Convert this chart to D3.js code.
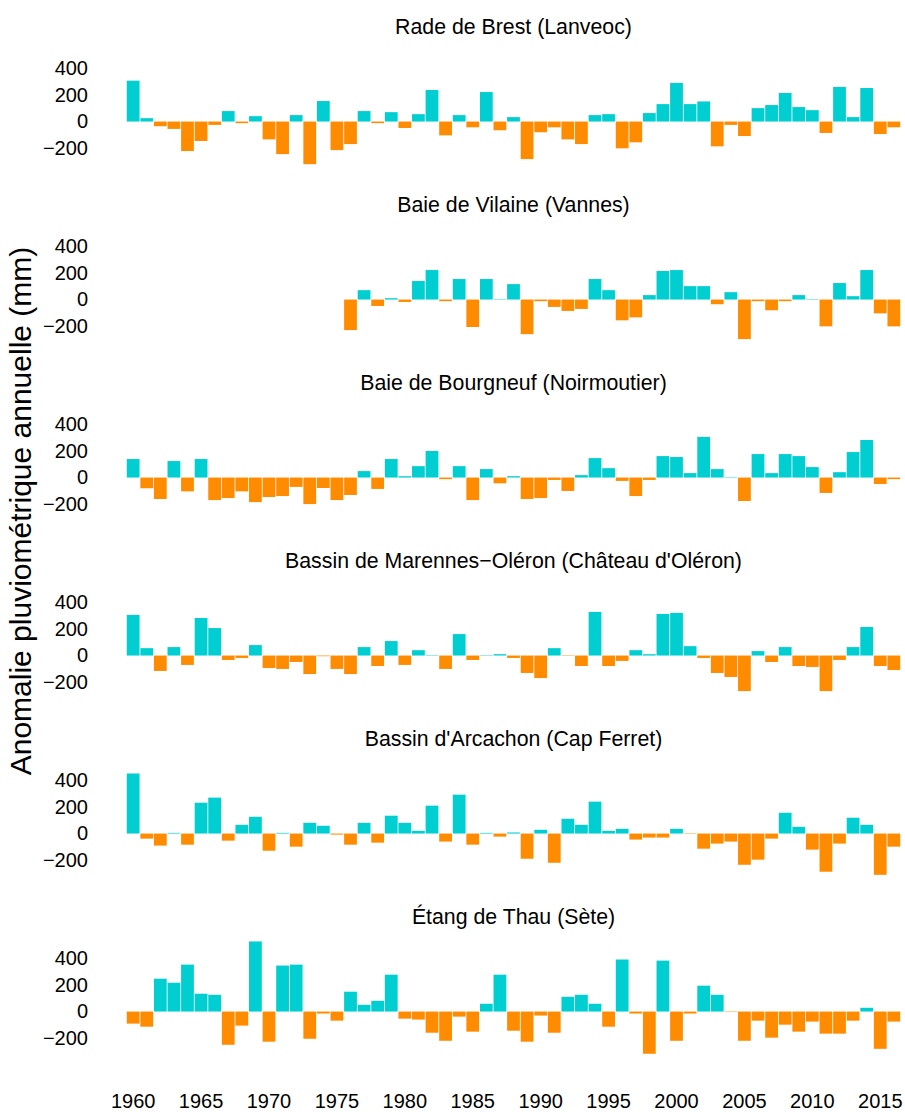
<!DOCTYPE html>
<html>
<head>
<meta charset="utf-8">
<script src="https://cdn.jsdelivr.net/npm/d3@7"></script>
<style>
  body { margin: 0; background: #fff; }
  svg text { font-family: "Liberation Sans", Arial, Helvetica, sans-serif; fill: #000; }
</style>
</head>
<body>
<div id="chart"></div>
<script>
const years = d3.range(1960, 2017)
const year_ticks = [1960, 1965, 1970, 1975, 1980, 1985, 1990, 1995, 2000, 2005, 2010, 2015]
const y_ticks = [-200, 0, 200, 400]

const titles = [
  "Rade de Brest (Lanveoc)",
  "Baie de Vilaine (Vannes)",
  "Baie de Bourgneuf (Noirmoutier)",
  "Bassin de Marennes\u2212Oléron (Château d'Oléron)",
  "Bassin d'Arcachon (Cap Ferret)",
  "Étang de Thau (Sète)"
]

// anomalies en mm, 1960 -> 2016
const brest = [305, 25, -35, -55, -220, -145, -25, 78, -12, 40,
  -133, -243, 48, -318, 153, -213, -168, 78, -12, 70,
  -48, 55, 235, -103, 48, -43, 220, -65, 33, -280,
  -80, -43, -133, -168, 48, 55, -200, -155, 63, 130,
  288, 130, 150, -185, -25, -108, 100, 123, 213, 108,
  85, -85, 258, 33, 250, -93, -43]

const vilaine = [null, null, null, null, null, null, null, null, null, null,
  null, null, null, null, null, null, -228, 70, -48, 10,
  -18, 138, 220, -12, 153, -205, 153, 3, 115, -258,
  -12, -55, -85, -70, 153, 70, -155, -133, 33, 213,
  220, 100, 100, -35, 55, -295, -12, -80, -12, 33,
  3, -200, 123, 25, 220, -103, -200]

const bourgneuf = [138, -80, -160, 123, -103, 138, -168, -153, -103, -183,
  -145, -138, -70, -198, -78, -168, -130, 48, -85, 138,
  10, 85, 198, -12, 85, -168, 63, -43, 10, -160,
  -153, -18, -100, 18, 145, 70, -25, -138, -18, 160,
  153, 33, 303, 63, 3, -175, 175, 33, 175, 160,
  78, -115, 40, 190, 280, -48, -12]

const marennes = [303, 55, -115, 63, -70, 280, 205, -33, -18, 78,
  -93, -100, -48, -138, -5, -100, -138, 63, -78, 108,
  -70, 40, 3, -100, 160, -33, 3, 10, -18, -130,
  -168, 55, -3, -78, 325, -78, -40, 40, 10, 310,
  318, 70, -18, -130, -160, -265, 33, -48, 63, -78,
  -85, -265, -33, 63, 213, -78, -108]

const arcachon = [448, -38, -90, 5, -83, 230, 268, -53, 65, 125,
  -128, 5, -98, 80, 58, -8, -83, 80, -68, 133,
  80, 20, 208, -60, 290, -83, 5, -23, 8, -188,
  28, -218, 110, 65, 238, 20, 35, -45, -30, -30,
  35, -3, -113, -75, -60, -233, -195, -38, 155, 50,
  -120, -285, -75, 118, 65, -308, -98]

const thau = [-90, -113, 245, 215, 350, 133, 125, -248, -105, 523,
  -225, 343, 350, -203, -15, -68, 148, 50, 80, 275,
  -53, -60, -158, -218, -38, -150, 58, 275, -143, -225,
  -30, -158, 110, 125, 58, -113, 388, -15, -315, 380,
  -218, -15, 193, 125, -3, -218, -68, -195, -98, -150,
  -75, -165, -165, -68, 28, -278, -75]

const series = [brest, vilaine, bourgneuf, marennes, arcachon, thau]

const width = 905
const height = 1112
const panel_step = 178
const panel_h = 119.3
const first_top = 50.5
const pos_color = "#00CED1"
const neg_color = "#FF8C00"

const svg = d3.select("#chart").append("svg")
  .attr("width", width)
  .attr("height", height)
  .attr("viewBox", `0,0,${width},${height}`)

const x = d3.scaleBand()
  .domain(years)
  .range([126.5, 900.5])
  .paddingInner(0.06)
  .paddingOuter(0.02)

series.forEach((vals, i) => {
  const top = first_top + panel_step * i
  const y = d3.scaleLinear()
    .domain([-360, 530])
    .range([top + panel_h, top])

  const data = years.map((yr, k) => ({ year: yr, value: vals[k] }))
    .filter(d => d.value != null)

  const g = svg.append("g")

  g.append("text")
    .attr("x", (x.range()[0] + x.range()[1]) / 2)
    .attr("y", top - 16.5)
    .attr("text-anchor", "middle")
    .style("font-size", "21.3px")
    .text(titles[i])

  g.append("g")
    .selectAll("rect").data(data).enter().append("rect")
      .attr("x", d => x(d.year))
      .attr("y", d => y(Math.max(0, d.value)))
      .attr("width", x.bandwidth())
      .attr("height", d => Math.abs(y(d.value) - y(0)))
      .attr("fill", d => d.value >= 0 ? pos_color : neg_color)

  const yAxis = g.append("g")
    .attr("transform", "translate(94,0)")
    .call(d3.axisLeft(y).tickValues(y_ticks).tickSize(0).tickPadding(6))
  yAxis.select(".domain").remove()
  yAxis.selectAll("text")
    .style("font-size", "20px")
    .style("font-family", "'Liberation Sans', Arial, sans-serif")
})

const xAxis = svg.append("g")
  .attr("transform", "translate(0,1088)")
  .call(d3.axisBottom(x).tickValues(year_ticks).tickSize(0).tickPadding(6))
xAxis.select(".domain").remove()
xAxis.selectAll("text")
  .style("font-size", "20px")
  .style("font-family", "'Liberation Sans', Arial, sans-serif")

svg.append("text")
  .attr("transform", "translate(31,511) rotate(-90)")
  .attr("text-anchor", "middle")
  .style("font-size", "30px")
  .text("Anomalie pluviométrique annuelle (mm)")
</script>
</body>
</html>
